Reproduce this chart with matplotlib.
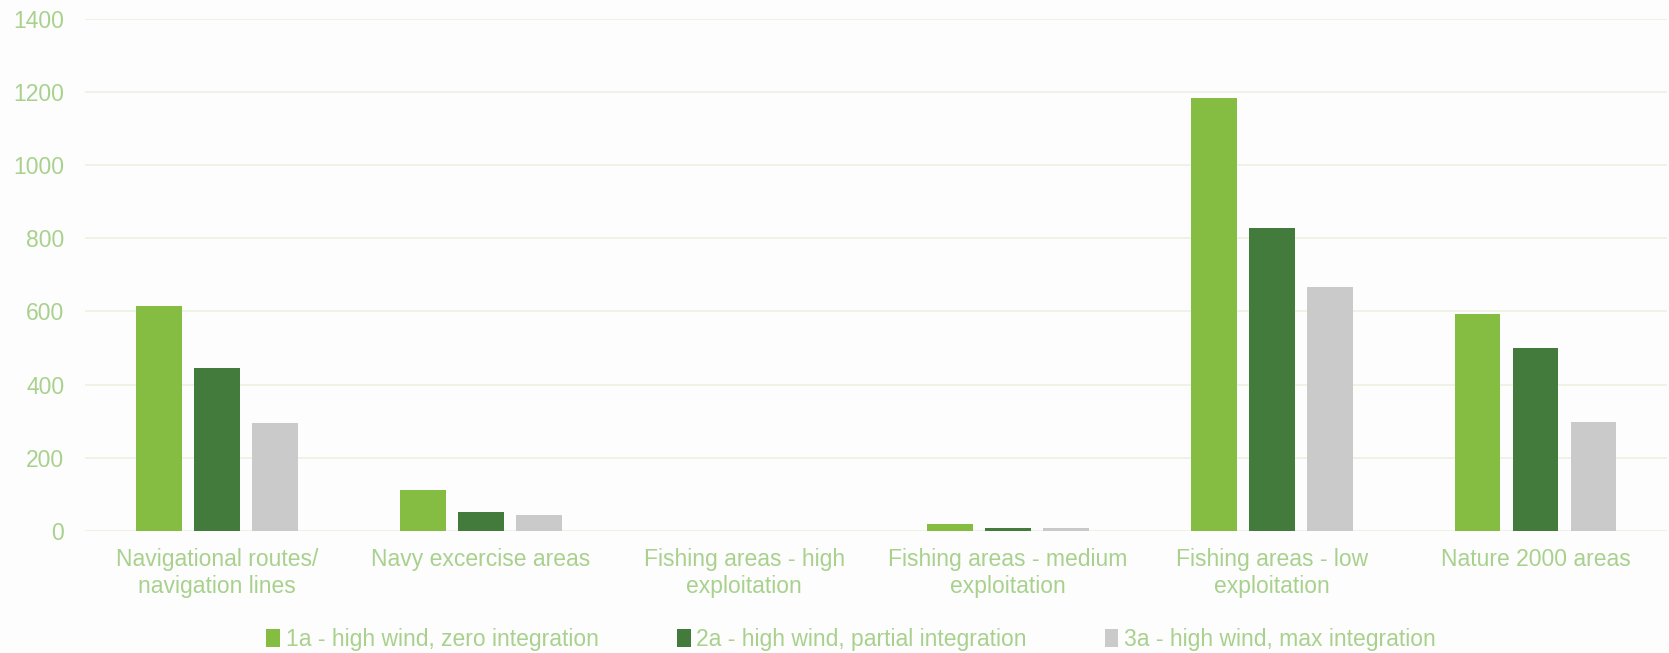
import numpy as np
import matplotlib.pyplot as plt

categories = ['Navigational routes/\nnavigation lines', 'Navy excercise areas',
              'Fishing areas - high\nexploitation', 'Fishing areas - medium\nexploitation',
              'Fishing areas - low\nexploitation', 'Nature 2000 areas']
series_names = ['1a - high wind, zero integration',
                '2a - high wind, partial integration',
                '3a - high wind, max integration']
s1a = [614, 113, 0, 18, 1184, 594]
s2a = [446, 52, 0, 8, 829, 500]
s3a = [294, 44, 0, 7, 666, 297]
yticks = [0, 200, 400, 600, 800, 1000, 1200, 1400]

colors = ['#84BD42', '#427B3B', '#CACACA']
text_color = '#A9D18E'
bg = '#FCFDFC'

plt.rcParams['font.family'] = ['Liberation Sans', 'DejaVu Sans']

fig = plt.figure(figsize=(16.69, 6.53), dpi=100, facecolor=bg)
ax = fig.add_axes([0.051, 0.187, 0.948, 0.784], facecolor=bg)

x = np.arange(len(categories))
width = 0.174
offsets = [-0.22, 0, 0.22]
for vals, off, col, name in zip([s1a, s2a, s3a], offsets, colors, series_names):
    ax.bar(x + off, vals, width=width, color=col, label=name, zorder=3)

ax.set_xlim(-0.5, len(categories) - 0.5)
ax.set_ylim(0, 1400)
ax.set_yticks(yticks)
ax.set_xticks(x)
ax.set_xticklabels(categories, linespacing=1.25)
ax.tick_params(axis='both', length=0, colors=text_color, labelsize=16.5)
ax.tick_params(axis='y', pad=15)
ax.tick_params(axis='x', pad=12)
ax.grid(axis='y', color='#EEF2E4', linewidth=1.3, zorder=0)
for s in ax.spines.values():
    s.set_visible(False)

leg = fig.legend(loc='center', bbox_to_anchor=(0.51, 0.021), ncol=3, frameon=False,
                 fontsize=16.5, handlelength=0.6, handleheight=0.85, handletextpad=0.25,
                 columnspacing=3.4)
for t in leg.get_texts():
    t.set_color(text_color)

fig.savefig('out.png', dpi=100, facecolor=bg)
